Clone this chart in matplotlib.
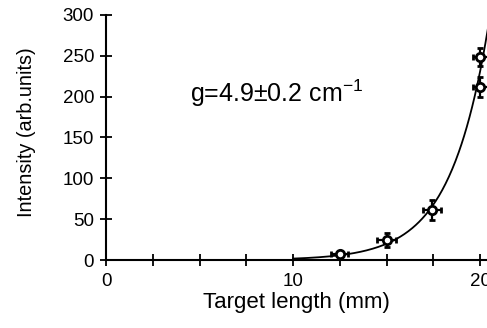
import numpy as np
import matplotlib
matplotlib.use("Agg")
import matplotlib.pyplot as plt

plt.rcParams['font.family'] = ['Liberation Sans', 'DejaVu Sans']
plt.rcParams['mathtext.fontset'] = 'custom'
plt.rcParams['mathtext.rm'] = 'Liberation Sans'
plt.rcParams['mathtext.it'] = 'Liberation Sans'

# measured intensity vs target length
length_mm = [12.5, 15.0, 17.43, 20.0, 20.0]
intensity = [7.0, 24.5, 61.0, 212.0, 248.0]
length_err = [0.45, 0.5, 0.5, 0.4, 0.4]
intensity_err = [3.0, 8.5, 12.0, 12.0, 11.0]

# exponential gain fit, g in cm^-1
gain_cm = 4.9
gain_err = 0.2
amp = 0.0128

fig = plt.figure(figsize=(4.87, 3.28), dpi=100)
ax = fig.add_axes([0.2177, 0.2073, 0.7823, 0.747])

L = np.linspace(10.0, 20.6, 300)
ax.plot(L, amp * np.exp(gain_cm / 10.0 * L), color='black', lw=1.3, zorder=2)

ax.errorbar(length_mm, intensity, xerr=length_err, yerr=intensity_err,
            fmt='o', ms=6, mfc='white', mec='black', mew=2.0,
            ecolor='black', elinewidth=1.6, capsize=2.5, capthick=1.6,
            zorder=3)

ax.set_xlim(0, 20.37)
ax.set_ylim(0, 300)
ax.set_xticks([0, 10, 20])
ax.set_xticks(np.arange(0, 20.1, 2.5), minor=True)
ax.set_yticks(np.arange(0, 301, 50))

for side in ('top', 'right'):
    ax.spines[side].set_visible(False)
for side in ('left', 'bottom'):
    ax.spines[side].set_linewidth(1.5)

ax.tick_params(axis='x', which='both', direction='inout', length=8, width=1.3,
               labelsize=13.5, pad=5)
ax.tick_params(axis='x', which='minor', length=8)
ax.tick_params(axis='y', direction='inout', length=9, width=1.3,
               labelsize=13.5, pad=4)

ax.set_xlabel('Target length (mm)', fontsize=16, labelpad=2)
ax.set_ylabel('Intensity (arb.units)', fontsize=14.3)
ax.yaxis.set_label_coords(-0.185, 0.52)

fig.text(190 / 487, 1 - 102 / 328,
         'g=%.1f$\\pm$%.1f cm$^{\\mathregular{-1}}$' % (gain_cm, gain_err),
         fontsize=18, va='baseline', ha='left')

fig.savefig('out.png', dpi=100)
